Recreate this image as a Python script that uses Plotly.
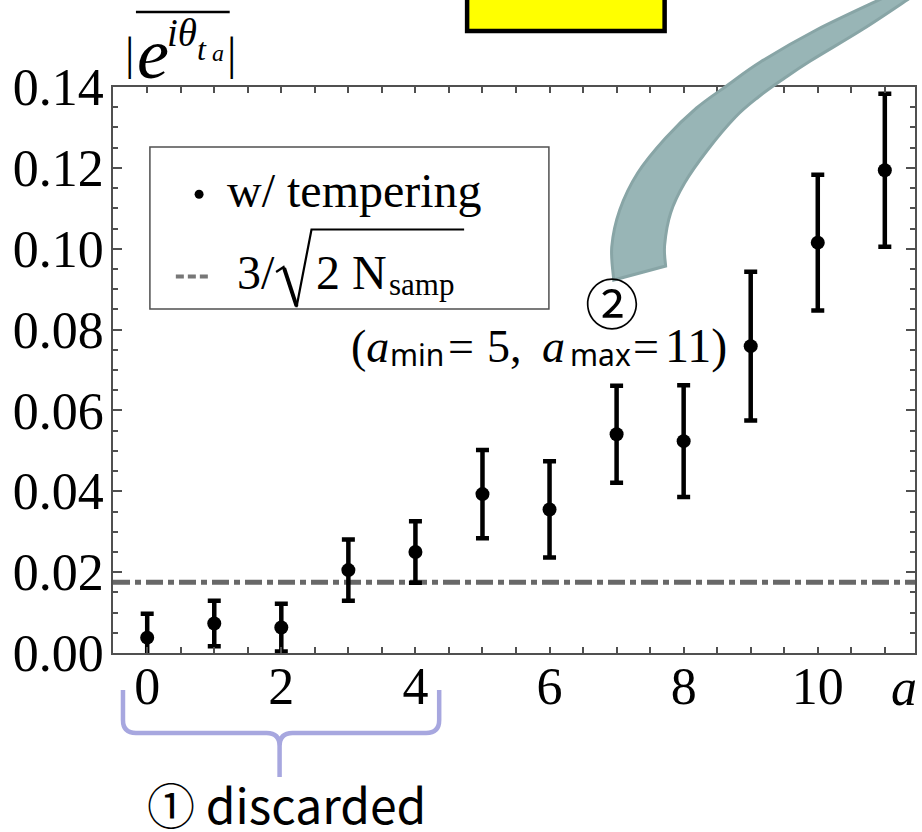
import plotly.graph_objects as go

# ---------------- data ----------------
a_vals = [0, 1, 2, 3, 4, 5, 6, 7, 8, 9, 10, 11]
phase_mean = [0.0038, 0.0073, 0.0063, 0.0205, 0.0250, 0.0393, 0.0355,
              0.0541, 0.0524, 0.0759, 0.1015, 0.1194]
phase_err = [0.0059, 0.0056, 0.0059, 0.0076, 0.0076, 0.0109, 0.0119,
             0.0120, 0.0138, 0.0184, 0.0168, 0.0189]
threshold = 0.0175          # 3/sqrt(2 N_samp)
x_range = [-0.51, 11.45]
y_range = [0.0, 0.14]
y_tick_step = 0.02

# ---------------- geometry helpers (pixel -> paper) ----------------
W, H = 922, 832
L, R, T, B = 113, 917, 87, 653
PW, PH = R - L, B - T


def px(x):
    return (x - L) / PW


def py(y):
    return (B - y) / PH


SERIF = "Liberation Serif"
SANS = "Noto Sans"
CJK = "Noto Sans CJK JP"
FRAME = "#505050"

fig = go.Figure()

# threshold dash-dot line
fig.add_trace(go.Scatter(
    x=x_range, y=[threshold, threshold], mode="lines",
    line=dict(color="#686868", width=5, dash="17px,5px,6px,5px"),
    hoverinfo="skip", showlegend=False))

# data with error bars
fig.add_trace(go.Scatter(
    x=a_vals, y=phase_mean, mode="markers",
    marker=dict(color="black", size=14),
    error_y=dict(type="data", array=phase_err, visible=True,
                 color="black", thickness=4.5, width=6.5),
    showlegend=False))

shapes = []
ann = []


def text(s, x, y, size, family=SERIF, xanchor="left", color="black"):
    ann.append(dict(text=s, x=px(x), y=py(y), xref="paper", yref="paper",
                    xanchor=xanchor, yanchor="middle", showarrow=False,
                    font=dict(family=family, size=size, color=color)))


def base(baseline, size, k=0.3375):
    """centre y for given baseline"""
    return baseline - k * size


# ---------- y-axis title  |e^{i theta_{t_a}}| with overline ----------
text("|", 129.5, base(69, 47), 47, xanchor="center")
text("<i>e</i>", 153, base(78, 72), 72, xanchor="center")
text("<i>iθ</i>", 165, base(46, 39), 39)
text("<i>t</i>", 202, base(60, 32), 32, xanchor="center")
text("<i>a</i>", 218, base(61.5, 24), 24, xanchor="center")
text("|", 232, base(69, 47), 47, xanchor="center")
shapes.append(dict(type="line", xref="paper", yref="paper",
                   x0=px(136), x1=px(230), y0=py(12), y1=py(12),
                   line=dict(color="black", width=2.5)))

# ---------- x-axis label ----------
text("<i>a</i>", 906, base(705, 52), 52, xanchor="center")

# ---------- legend box ----------
shapes.append(dict(type="rect", xref="paper", yref="paper",
                   x0=px(150), x1=px(550), y0=py(147), y1=py(309),
                   line=dict(color=FRAME, width=1.5), fillcolor="white",
                   layer="above"))
shapes.append(dict(type="circle", xref="paper", yref="paper",
                   x0=px(194.8), x1=px(203.8), y0=py(189.8), y1=py(198.8),
                   line=dict(color="black", width=0), fillcolor="black",
                   layer="above"))
text("w/ tempering", 225, base(206.7, 48), 48)
shapes.append(dict(type="line", xref="paper", yref="paper",
                   x0=px(176), x1=px(209), y0=py(276.5), y1=py(276.5),
                   line=dict(color="#777777", width=4, dash="8px,4px"),
                   layer="above"))
text("3/", 235, base(288.3, 48), 48)
text("2 N", 315, base(288.3, 48), 48)
text("samp", 388, base(295, 31), 31)
shapes.append(dict(type="path", xref="paper", yref="paper",
                   path=(f"M {px(276.5)},{py(272)} L {px(284)},{py(267)} "
                         f"L {px(297)},{py(307)} L {px(312)},{py(229.5)} "
                         f"L {px(465)},{py(229.5)}"),
                   line=dict(color="black", width=2.2), layer="above"))
shapes.append(dict(type="line", xref="paper", yref="paper",
                   x0=px(284.5), x1=px(297), y0=py(268), y1=py(306),
                   line=dict(color="black", width=4), layer="above"))

# ---------- (a_min = 5, a_max = 11) annotation ----------
text("(<i>a</i>", 350, base(361.7, 46), 46)
text("min", 389, base(366.5, 30, 0.388), 30, family=SANS)
text("=", 447, base(361.7, 46), 46)
text("5,", 486, base(361.7, 46), 46)
text("<i>a</i>", 541, base(361.7, 46), 46)
text("max", 569, base(366.5, 30, 0.388), 30, family=SANS)
text("=", 632, base(361.7, 46), 46)
text("11)", 664, base(361.7, 48), 48)

# circled numbers / notes
text("②", 613, 301, 54, family=CJK, xanchor="center")
text("① discarded", 287, 803, 48, family=CJK, xanchor="center")

# ---------- brace ----------
brace = [
    ("M", 123, 690), ("L", 123, 720), ("Q", 123, 733, 136, 733),
    ("L", 267, 733), ("Q", 280, 733, 280, 746), ("L", 280, 777),
    ("M", 280, 746), ("Q", 280, 733, 293, 733), ("L", 427, 733),
    ("Q", 440, 733, 440, 720), ("L", 440, 690),
]
parts = []
for seg in brace:
    cmd, coords = seg[0], seg[1:]
    pts = " ".join(f"{px(coords[i])},{py(coords[i + 1])}"
                   for i in range(0, len(coords), 2))
    parts.append(f"{cmd} {pts}")
shapes.append(dict(type="path", xref="paper", yref="paper",
                   path=" ".join(parts),
                   line=dict(color="#a7a7df", width=4.5), layer="above"))

# ---------- yellow box (cut at top) ----------
shapes.append(dict(type="rect", xref="paper", yref="paper",
                   x0=px(468), x1=px(666), y0=py(31), y1=py(-20),
                   line=dict(color="black", width=4.5), fillcolor="#ffff00",
                   layer="above"))

# ---------- curved teal arrow band ----------
left_edge = [(615, 280), (613, 247), (621, 210), (639, 173), (667, 138),
             (698, 108), (728, 86), (762, 62), (818, 30), (885, -2)]
right_edge = [(912, -2), (865, 29), (812, 61), (785, 79), (760, 97),
              (737, 117), (709, 150), (686, 183), (672, 213), (666, 245),
              (667, 266)]


def catmull(pts):
    out = f"{px(pts[0][0])},{py(pts[0][1])}"
    segs = []
    for i in range(len(pts) - 1):
        p0 = pts[i - 1] if i > 0 else pts[i]
        p1 = pts[i]
        p2 = pts[i + 1]
        p3 = pts[i + 2] if i + 2 < len(pts) else pts[i + 1]
        c1 = (p1[0] + (p2[0] - p0[0]) / 6, p1[1] + (p2[1] - p0[1]) / 6)
        c2 = (p2[0] - (p3[0] - p1[0]) / 6, p2[1] - (p3[1] - p1[1]) / 6)
        segs.append(f"C {px(c1[0])},{py(c1[1])} {px(c2[0])},{py(c2[1])} "
                    f"{px(p2[0])},{py(p2[1])}")
    return out, " ".join(segs)


s0, lseg = catmull(left_edge)
r0, rseg = catmull(right_edge)
band_path = f"M {s0} {lseg} L {r0} {rseg} Z"
shapes.append(dict(type="path", xref="paper", yref="paper", path=band_path,
                   fillcolor="#98b5b6", line=dict(color="#88a5a6", width=3),
                   layer="above"))

axis_common = dict(showgrid=False, zeroline=False, showline=True,
                   linecolor=FRAME, linewidth=1.5, mirror="allticks",
                   ticks="inside", tickcolor=FRAME, tickwidth=1.5,
                   tickfont=dict(family=SERIF, size=52, color="black"))

fig.update_layout(
    width=W, height=H,
    margin=dict(l=L, r=W - R, t=T, b=H - B, pad=0),
    paper_bgcolor="white", plot_bgcolor="white",
    showlegend=False,
    xaxis=dict(range=x_range, tick0=0, dtick=2, ticklen=6,
               ticklabelstandoff=-13,
               minor=dict(dtick=0.5, tick0=0, ticks="inside", ticklen=6,
                          tickcolor=FRAME, tickwidth=1.5),
               **axis_common),
    yaxis=dict(range=y_range, tick0=0, dtick=y_tick_step, ticklen=9,
               tickformat=".2f", ticklabelstandoff=-3,
               minor=dict(dtick=0.005, tick0=0, ticks="inside", ticklen=5,
                          tickcolor=FRAME, tickwidth=1.5),
               **axis_common),
    shapes=shapes,
    annotations=ann,
)

fig.write_html("out.html")
